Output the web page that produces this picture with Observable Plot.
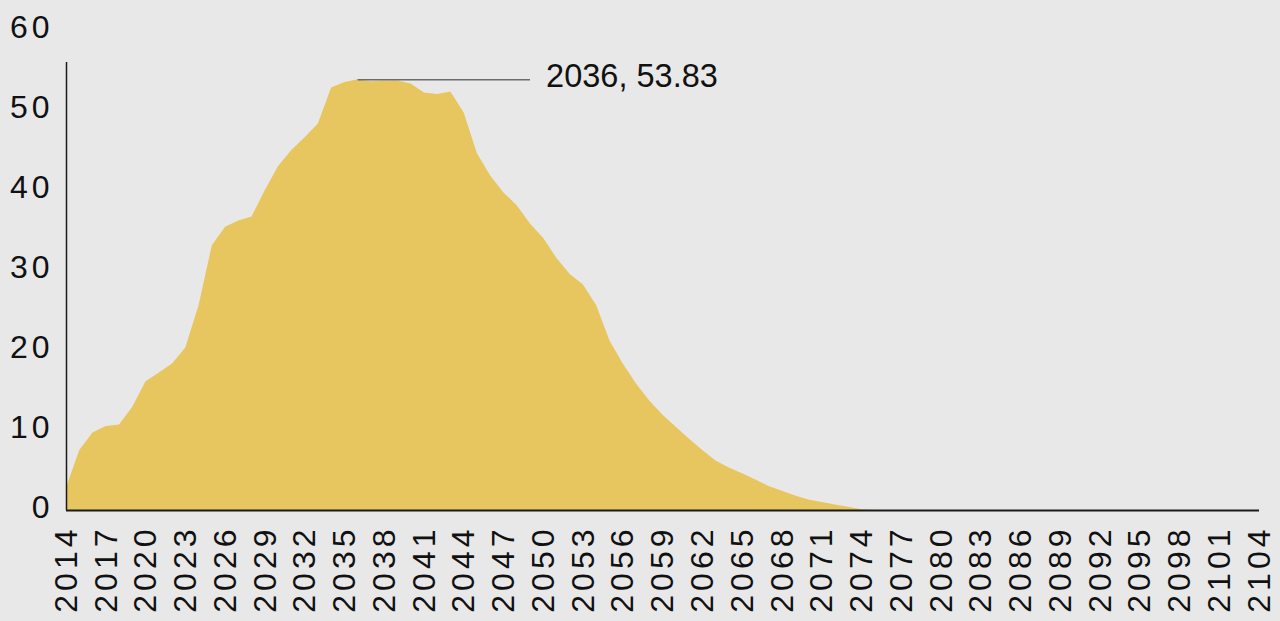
<!DOCTYPE html>
<html>
<head>
<meta charset="utf-8">
<script src="https://cdn.jsdelivr.net/npm/d3@7"></script>
<script src="https://cdn.jsdelivr.net/npm/@observablehq/plot@0.6"></script>
<style>
  html, body { margin: 0; padding: 0; background: #e8e8e8; }
  #chart svg { display: block; }
  g[aria-label="x-axis tick label"] text,
  g[aria-label="y-axis tick label"] text { letter-spacing: 4px; }
</style>
</head>
<body>
<div id="chart"></div>
<script>
// ---- data ----
const startYear = 2014;
const endYear = 2104;
const values = [
  2.8, 7.5, 9.7, 10.5, 10.7, 12.9, 16.1, 17.2, 18.3, 20.3,      // 2014-2023
  25.6, 33.1, 35.4, 36.2, 36.7, 40.0, 43.0, 45.0, 46.6, 48.3,   // 2024-2033
  52.8, 53.5, 53.83, 53.6, 53.7, 53.7, 53.3, 52.2, 52.0, 52.3,  // 2034-2043
  49.7, 44.6, 41.8, 39.7, 38.1, 35.8, 34.0, 31.5, 29.5, 28.2,   // 2044-2053
  25.6, 21.2, 18.3, 15.8, 13.7, 11.9, 10.4, 8.9, 7.5, 6.2,      // 2054-2063
  5.3, 4.6, 3.8, 3.0, 2.4, 1.8, 1.3, 1.0, 0.7, 0.4,             // 2064-2073
  0.1, 0, 0, 0, 0, 0, 0, 0, 0, 0,                               // 2074-2083
  0, 0, 0, 0, 0, 0, 0, 0, 0, 0,                                 // 2084-2093
  0, 0, 0, 0, 0, 0, 0, 0, 0, 0,                                 // 2094-2103
  0                                                             // 2104
];
const xTicks = [2014, 2017, 2020, 2023, 2026, 2029, 2032, 2035, 2038, 2041, 2044,
  2047, 2050, 2053, 2056, 2059, 2062, 2065, 2068, 2071, 2074, 2077, 2080, 2083,
  2086, 2089, 2092, 2095, 2098, 2101, 2104];
const yTicks = [0, 10, 20, 30, 40, 50, 60];
const peakYear = 2036;
const peakValue = 53.83;
const yAxisTop = 56;
const leaderYears = 13;

const data = values.map((v, i) => ({year: startYear + i, value: v}));
const font = "'Liberation Sans', Arial, Helvetica, sans-serif";

const chart = Plot.plot({
  width: 1280,
  height: 621,
  marginLeft: 66,
  marginRight: 21,
  marginTop: 30,
  marginBottom: 111,
  style: {background: "#e8e8e8", fontFamily: font, color: "#111"},
  x: {domain: [startYear, endYear]},
  y: {domain: [0, 60]},
  marks: [
    Plot.areaY(data, {x: "year", y: "value", fill: "#e7c660"}),
    Plot.ruleY([0], {x1: startYear, x2: endYear, stroke: "#1a1a1a", strokeWidth: 2}),
    Plot.ruleX([startYear], {y1: 0, y2: yAxisTop, stroke: "#1a1a1a", strokeWidth: 1.5}),
    Plot.axisX({ticks: xTicks, tickFormat: d => String(d), tickRotate: -90, tickSize: 0,
      tickPadding: 15, fontSize: 32, label: null, fill: "#111"}),
    Plot.axisY({ticks: yTicks, tickSize: 0, tickPadding: 13, fontSize: 32, dy: -3,
      label: null, fill: "#111"}),
    Plot.ruleY([peakValue], {x1: peakYear, x2: peakYear + leaderYears, stroke: "#6b6b6b", strokeWidth: 1.5}),
    Plot.text([`${peakYear}, ${peakValue}`], {x: peakYear, y: peakValue, text: d => d, dx: 188, dy: -3,
      textAnchor: "start", fontSize: 32.5, fill: "#111", fontFamily: font})
  ]
});
document.getElementById("chart").append(chart);
</script>
</body>
</html>
